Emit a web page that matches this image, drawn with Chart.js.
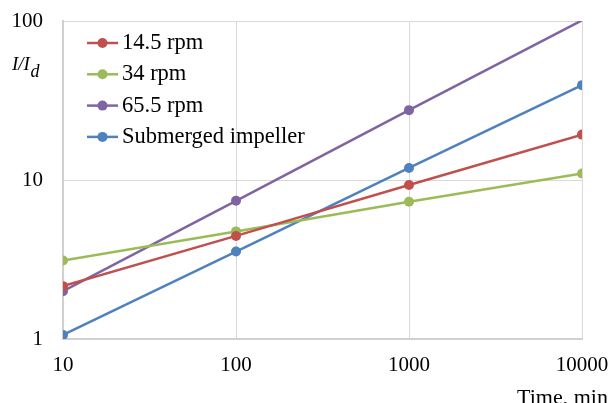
<!DOCTYPE html>
<html>
<head>
<meta charset="utf-8">
<script src="https://cdn.jsdelivr.net/npm/chart.js@4/dist/chart.umd.min.js"></script>
<style>
html,body{margin:0;padding:0;background:#fff;}
#wrap{width:611px;height:403px;position:relative;}
</style>
</head>
<body>
<div id="wrap"><canvas id="c" width="611" height="403"></canvas></div>
<script>
const times = [10, 100, 1000, 10000];
const rpm14_5 = [2.15, 4.45, 9.3, 19.3];
const rpm34 = [3.12, 4.75, 7.3, 11.0];
const rpm65_5 = [2.0, 7.4, 27.5, 101];
const submerged = [1.06, 3.55, 11.9, 39.5];
const seriesNames = ['14.5 rpm', '34 rpm', '65.5 rpm', 'Submerged impeller'];
const xTicks = [10, 100, 1000, 10000];
const yTicks = [1, 10, 100];
const xTitle = 'Time, min';
const yTitleMain = 'I/I';
const yTitleSub = 'd';

const colors = ['#C0504D', '#9BBB59', '#8064A2', '#4F81BD'];
const FONT = '"Liberation Serif", "Times New Roman", serif';
const Y_MIN = 1, Y_MAX = 100;

function pts(arr){ return times.map((t,i)=>({x:t, y:arr[i]})); }
const seriesData = [rpm14_5, rpm34, rpm65_5, submerged];

const datasets = seriesData.map((arr, i) => ({
  label: seriesNames[i],
  data: pts(arr),
  borderColor: colors[i],
  backgroundColor: colors[i],
  borderWidth: 2.5,
  pointRadius: ctx => (ctx.raw && ctx.raw.y > Y_MAX) ? 0 : 5,
  pointBorderWidth: 0,
  pointHoverRadius: 5,
  tension: 0
}));

function zeroPad(s){ s.paddingTop = 0; s.paddingBottom = 0; s.paddingLeft = 0; s.paddingRight = 0; }

const overlay = {
  id: 'overlay',
  afterDraw(chart){
    const ctx = chart.ctx;
    ctx.save();
    const x0 = 87, x1 = 118, tx = 122, y0 = 43, dy = 31.3;
    chart.data.datasets.forEach((ds, i) => {
      const y = y0 + dy*i;
      ctx.strokeStyle = ds.borderColor;
      ctx.lineWidth = 2.5;
      ctx.beginPath(); ctx.moveTo(x0, y); ctx.lineTo(x1, y); ctx.stroke();
      ctx.fillStyle = ds.borderColor;
      ctx.beginPath(); ctx.arc((x0+x1)/2, y, 5, 0, Math.PI*2); ctx.fill();
      ctx.fillStyle = '#000';
      ctx.font = '22.5px ' + FONT;
      ctx.textAlign = 'left';
      ctx.textBaseline = 'middle';
      ctx.fillText(ds.label, tx, y);
    });
    ctx.fillStyle = '#000';
    ctx.textBaseline = 'alphabetic';
    ctx.textAlign = 'left';
    ctx.font = 'italic 19px ' + FONT;
    ctx.fillText(yTitleMain, 12, 69.5);
    const w = ctx.measureText(yTitleMain).width;
    ctx.font = 'italic 18px ' + FONT;
    ctx.fillText(yTitleSub, 12 + w + 0.5, 77);
    ctx.font = '22px ' + FONT;
    ctx.fillText(xTitle, 517, 404);
    ctx.restore();
  }
};

new Chart(document.getElementById('c'), {
  type: 'line',
  data: { datasets },
  options: {
    responsive: false,
    animation: false,
    devicePixelRatio: 1,
    layout: { padding: { left: 0, right: 29, top: 21, bottom: 0 } },
    plugins: { legend: { display: false }, tooltip: { enabled: false } },
    scales: {
      x: {
        type: 'logarithmic',
        min: 10, max: 10000,
        afterBuildTicks: s => { s.ticks = xTicks.map(v => ({value: v})); },
        afterFit: s => { s.height = 64; zeroPad(s); },
        ticks: {
          color: '#000',
          font: { family: FONT, size: 21 },
          padding: 14,
          maxRotation: 0,
          callback: v => String(v)
        },
        grid: { color: '#d9d9d9', lineWidth: 1, drawTicks: false },
        border: { color: '#d0d0d0', width: 2 }
      },
      y: {
        type: 'logarithmic',
        min: Y_MIN, max: Y_MAX,
        afterBuildTicks: s => { s.ticks = yTicks.map(v => ({value: v})); },
        afterFit: s => { s.width = 63; zeroPad(s); },
        ticks: {
          color: '#000',
          font: { family: FONT, size: 21 },
          padding: 20,
          callback: v => String(v)
        },
        grid: { color: '#d9d9d9', lineWidth: 1, drawTicks: false },
        border: { color: '#d0d0d0', width: 2 }
      }
    }
  },
  plugins: [overlay]
});
</script>
</body>
</html>
